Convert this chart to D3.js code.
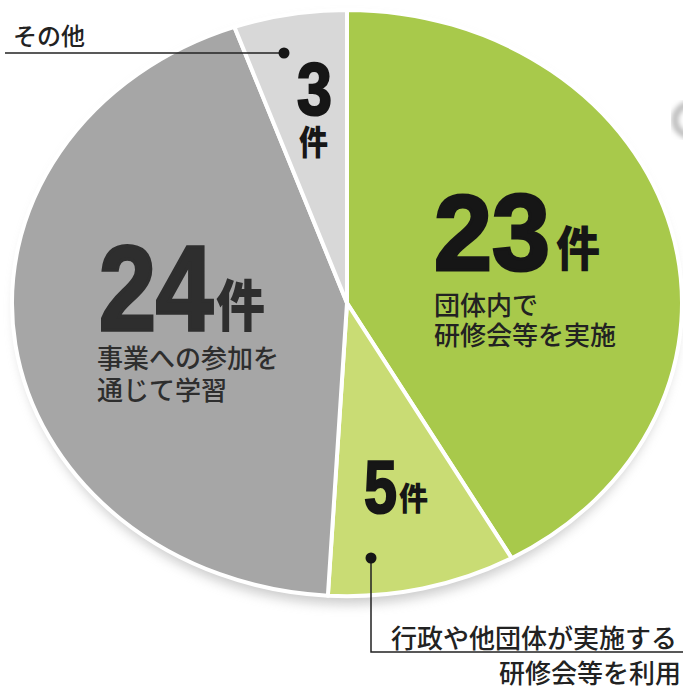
<!DOCTYPE html>
<html><head><meta charset="utf-8">
<script src="https://cdn.jsdelivr.net/npm/d3@7/dist/d3.min.js"></script>
<style>body{margin:0;background:#fff}svg{display:block}</style>
</head><body>
<script>
const categories = ["団体内で研修会等を実施", "行政や他団体が実施する研修会等を利用", "事業への参加を通じて学習", "その他"];
const values = [23, 5, 24, 3];
const unit = "件";
const colors = ["#a8c94b", "#c9dc74", "#a6a6a6", "#d8d8d8"];

const W = 683, H = 690;
const svg = d3.select("body").append("svg").attr("width", W).attr("height", H);
const defs = svg.append("defs");
defs.append("filter").attr("id","blur").attr("x","-20%").attr("y","-20%").attr("width","140%").attr("height","140%")
  .append("feGaussianBlur").attr("stdDeviation", 6);
defs.append("filter").attr("id","blur2")
  .append("feGaussianBlur").attr("stdDeviation", 2.5);

const cx = 347, cy = 303, R = 335, sy = 0.875;
const pie = d3.pie().sort(null).startAngle(0).endAngle(2*Math.PI);
const arcs = pie(values);
const arc = d3.arc().innerRadius(0).outerRadius(R);

// faint object at right edge
svg.append("ellipse").attr("cx", 692).attr("cy", 120).attr("rx", 17).attr("ry", 16)
  .attr("fill", "none").attr("stroke", "#bdbdbd").attr("stroke-width", 7).attr("filter", "url(#blur2)");

// shadow
svg.append("ellipse").attr("cx", cx).attr("cy", cy + 8).attr("rx", R - 4).attr("ry", R*sy)
  .attr("fill", "#9a9a9a").attr("opacity", 0.5).attr("filter", "url(#blur)");

const g = svg.append("g").attr("transform", `translate(${cx},${cy}) scale(1,${sy})`);
g.selectAll("path").data(arcs).join("path")
  .attr("d", arc)
  .attr("fill", (d,i) => colors[i])
  .attr("stroke", "#fff")
  .attr("stroke-width", 4)
  .attr("stroke-linejoin", "round")
  .attr("vector-effect", "non-scaling-stroke");

const numFont = "'Liberation Sans', Arial, sans-serif";
const jp = "'Noto Sans CJK JP', sans-serif";

function num(x, y, size, len, txt, color) {
  svg.append("text").attr("x", x).attr("y", y)
    .attr("font-family", numFont).attr("font-weight", 700).attr("font-size", size)
    .attr("textLength", len).attr("lengthAdjust", "spacingAndGlyphs")
    .attr("fill", color).attr("stroke", color).attr("stroke-width", size*0.03)
    .text(txt);
}
function kanji(x, y, size, len, color) {
  svg.append("text").attr("x", x).attr("y", y)
    .attr("font-family", jp).attr("font-weight", 900).attr("font-size", size)
    .attr("textLength", len).attr("lengthAdjust", "spacingAndGlyphs")
    .attr("fill", color).text(unit);
}
function body(x, y, txt, color, anchor, size) {
  svg.append("text").attr("x", x).attr("y", y)
    .attr("font-family", jp).attr("font-weight", 500).attr("font-size", size || 26)
    .attr("text-anchor", anchor || "start")
    .attr("fill", color).text(txt);
}

// 23件
num(434, 270, 107, 116, String(values[0]), "#161616");
kanji(556, 266, 48, 44, "#161616");
body(434, 315, "団体内で", "#222");
body(434, 345, "研修会等を実施", "#222");

// 24件
num(99, 330, 121, 114, String(values[2]), "#2e2e2e");
kanji(216, 326, 56, 49, "#2e2e2e");
body(97, 368, "事業への参加を", "#2e2e2e");
body(97, 400, "通じて学習", "#2e2e2e");

// 5件
num(364, 513, 74, 33, String(values[1]), "#161616");
kanji(399, 510, 32, 29, "#161616");

// 3件
num(297, 115, 74, 35, String(values[3]), "#161616");
kanji(299, 155, 34, 29, "#161616");

// その他 leader
body(13, 45, "その他", "#222", "start", 24);
svg.append("line").attr("x1", 5).attr("x2", 284).attr("y1", 53).attr("y2", 53)
  .attr("stroke", "#222").attr("stroke-width", 1.5);
svg.append("circle").attr("cx", 284).attr("cy", 53).attr("r", 5.5).attr("fill", "#161616");

// bottom leader
svg.append("path").attr("d", "M371,558 V652 H683").attr("fill", "none")
  .attr("stroke", "#222").attr("stroke-width", 1.5);
svg.append("circle").attr("cx", 371).attr("cy", 558).attr("r", 5.5).attr("fill", "#161616");
body(391, 648, "行政や他団体が実施する", "#222");
body(681, 683, "研修会等を利用", "#222", "end");
</script>
</body></html>
